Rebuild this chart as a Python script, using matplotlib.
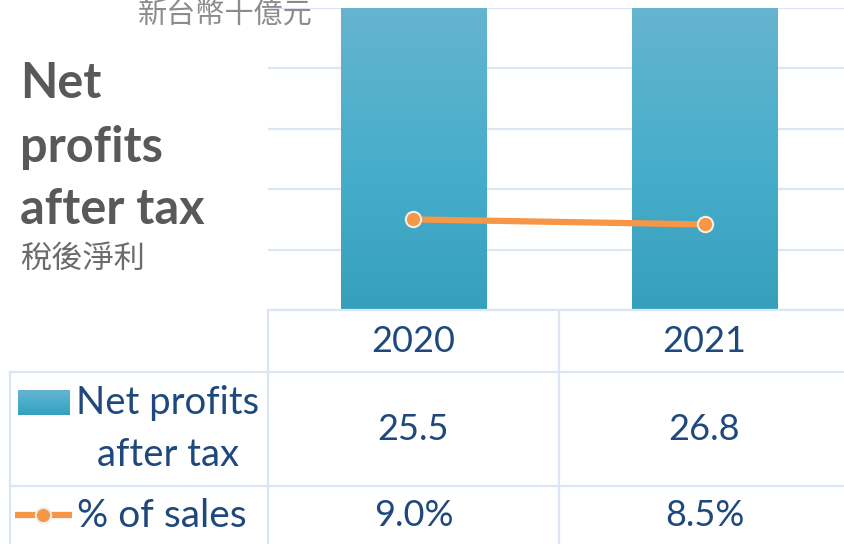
import numpy as np
import matplotlib
matplotlib.use("Agg")
import matplotlib.pyplot as plt
from matplotlib.lines import Line2D
from matplotlib.transforms import blended_transform_factory

plt.rcParams['font.family'] = ['Lato', 'Noto Sans CJK TC', 'DejaVu Sans']

# ----------------------------
# DATA
# ----------------------------
years = ["2020", "2021"]
net_profits = [25.5, 26.8]          # NT$ billion
pct_of_sales = [0.090, 0.085]
net_labels = ["25.5", "26.8"]
pct_labels = ["9.0%", "8.5%"]

W, H = 845, 544
TEXT = "#1F497D"
GRID = "#DCE6F2"
ORANGE = "#F79646"


def fx(px):
    return px / W


def fy(py):
    # pixel from top -> figure fraction
    return 1 - py / H


fig = plt.figure(figsize=(W / 100, H / 100), dpi=100)

# ----------------------------
# CHART AREA
# ----------------------------
ax = fig.add_axes([fx(268), fy(310), fx(850 - 268), (310 - 8) / H])
x = np.arange(len(years))

cmap = matplotlib.colors.LinearSegmentedColormap.from_list(
    "bar", ["#36A0BC", "#48AECB", "#66B4CF"])
grad = np.linspace(0, 1, 256).reshape(-1, 1)

bars = ax.bar(x, net_profits, width=0.5, color="none", zorder=2)
for b in bars:
    im = ax.imshow(grad, cmap=cmap, origin="lower", aspect="auto",
                   extent=[b.get_x(), b.get_x() + b.get_width(), 0, 25],
                   zorder=2)
    im.set_clip_path(b)

ax.set_xlim(-0.5, len(years) - 0.5)
ax.set_ylim(0, 25)
ax.set_yticks(np.arange(0, 26, 5))
ax.grid(axis="y", color=GRID, lw=1.6, zorder=0)
for s in ax.spines.values():
    s.set_visible(False)

ax2 = ax.twinx()
ax2.plot(x, pct_of_sales, color=ORANGE, lw=4.5, marker="o", ms=11,
         mfc=ORANGE, mec="#F3EEE6", mew=1.5, solid_capstyle="butt", zorder=3)
ax2.set_ylim(0, 0.30)
for a in (ax, ax2):
    a.tick_params(left=False, right=False, bottom=False, top=False,
                  labelleft=False, labelright=False, labelbottom=False)
for s in ax2.spines.values():
    s.set_visible(False)

# ----------------------------
# DATA TABLE
# ----------------------------
tr = blended_transform_factory(ax.transData, fig.transFigure)


def hline(y, x0, x1):
    fig.add_artist(Line2D([fx(x0), fx(x1)], [fy(y), fy(y)], color=GRID, lw=1.6))


def vline(xp, y0, y1):
    fig.add_artist(Line2D([fx(xp), fx(xp)], [fy(y0), fy(y1)], color=GRID, lw=1.6))


hline(310, 268, W)
hline(372, 10, W)
hline(486, 10, W)
vline(268, 310, H)
vline(10, 372, H)
for b in x[:-1] + 0.5:
    fig.add_artist(Line2D([b, b], [fy(310), 0], color=GRID, lw=1.6, transform=tr))

for i in x:
    fig.text(i, fy(341), years[i], transform=tr, ha="center", va="center",
             fontsize=26, color=TEXT)
    fig.text(i, fy(430), net_labels[i], transform=tr, ha="center", va="center",
             fontsize=26, color=TEXT)
    fig.text(i, fy(516), pct_labels[i], transform=tr, ha="center", va="center",
             fontsize=26, color=TEXT)

# legend keys in the table
sw = fig.add_axes([fx(18), fy(415), fx(52), (415 - 390) / H])
sw.imshow(grad, cmap=cmap, origin="lower", aspect="auto")
sw.axis("off")
fig.text(fx(168), fy(429), "Net profits\nafter tax", ha="center", va="center",
         fontsize=27.5, color=TEXT, linespacing=1.55)
fig.add_artist(Line2D([fx(15), fx(72)], [fy(515), fy(515)], color=ORANGE, lw=4.5,
                      solid_capstyle="butt"))
fig.add_artist(Line2D([fx(43)], [fy(515)], color=ORANGE, lw=0, marker="o", ms=11,
                      mfc=ORANGE, mec="#F3EEE6", mew=1.5))
fig.text(fx(77), fy(516), "% of sales", ha="left", va="center",
         fontsize=28, color=TEXT)

# ----------------------------
# TITLES
# ----------------------------
for line, yc in zip(["Net", "profits", "after tax"], [83, 147, 210]):
    fig.text(fx(20), fy(yc), line, ha="left", va="center", fontsize=35,
             fontweight="bold", color="#595959")
fig.text(fx(20), fy(259), "稅後淨利", ha="left", va="center", fontsize=22.5,
         color="#6B6B6B")
fig.text(fx(138), fy(14), "新台幣十億元", ha="left", va="center", fontsize=21,
         color="#8C8C8C")

fig.savefig("out.png", dpi=100)
